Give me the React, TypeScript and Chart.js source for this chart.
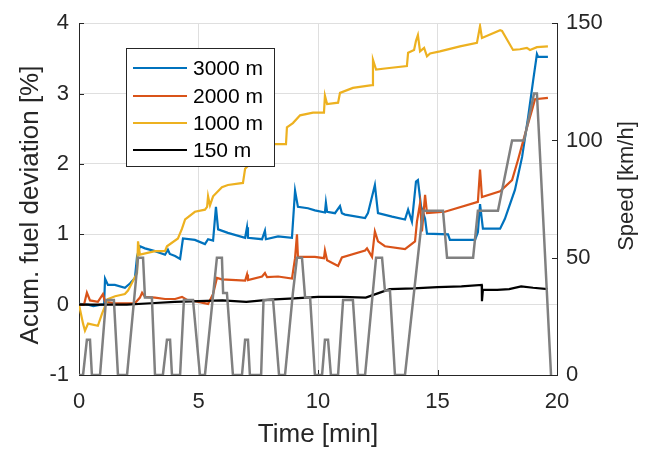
import { useEffect, useRef } from "react";
import { Chart, registerables } from "chart.js";

Chart.register(...registerables);

// ---------- data (time in minutes) ----------
const t3000 = [0, 0.04, 0.38, 0.6, 0.92, 1.05, 1.09, 1.21, 1.5, 1.92, 2.13, 2.34, 2.43, 2.55, 2.76, 3.18, 3.6, 3.72, 3.8, 4.02, 4.23, 4.35, 4.85, 5.27, 5.4, 5.61, 5.73, 5.82, 6.23, 6.95, 7.03, 7.07, 7.66, 7.78, 7.82, 8.33, 8.91, 9.04, 9.16, 9.58, 9.87, 10.29, 10.33, 10.38, 10.71, 10.92, 11.0, 11.13, 11.97, 12.09, 12.38, 12.51, 13.1, 13.64, 13.77, 13.93, 14.1, 14.18, 14.31, 14.48, 14.56, 15.44, 15.52, 16.57, 16.69, 16.78, 16.9, 17.62, 17.82, 18.24, 18.54, 18.79, 19.0, 19.16, 19.21, 19.62];
const v3000 = [0, 0.01, 0.0, -0.02, 0.0, 0.0, 0.37, 0.28, 0.28, 0.24, 0.3, 0.38, 0.69, 0.83, 0.8, 0.76, 0.71, 0.78, 0.72, 0.69, 0.65, 0.94, 0.92, 0.86, 0.93, 0.91, 1.39, 1.07, 1.02, 0.95, 1.1, 0.95, 0.93, 1.05, 0.93, 0.97, 0.95, 1.62, 1.39, 1.37, 1.34, 1.31, 1.45, 1.32, 1.3, 1.4, 1.3, 1.28, 1.23, 1.3, 1.7, 1.3, 1.25, 1.21, 1.35, 1.18, 1.75, 1.77, 1.4, 1.22, 1.01, 1.0, 0.92, 0.92, 1.03, 1.43, 1.08, 1.08, 1.22, 1.63, 2.1, 2.66, 3.18, 3.56, 3.52, 3.52];

const t2000 = [0, 0.21, 0.33, 0.46, 0.79, 1.0, 1.09, 1.51, 2.34, 2.55, 2.64, 2.76, 3.18, 3.6, 4.02, 4.31, 4.56, 4.85, 5.4, 5.61, 5.77, 5.98, 6.95, 7.03, 7.07, 7.66, 7.78, 7.87, 8.33, 8.91, 9.04, 9.12, 9.16, 9.87, 10.25, 10.29, 10.38, 10.84, 11.0, 11.97, 12.05, 12.26, 12.38, 12.51, 12.8, 13.64, 14.06, 14.14, 14.27, 14.35, 14.48, 14.56, 15.31, 16.69, 16.78, 16.86, 17.62, 18.12, 18.37, 18.66, 18.95, 19.08, 19.62];
const v2000 = [0, 0.0, 0.17, 0.06, 0.04, 0.15, 0.04, 0.02, 0.02, 0.1, 0.17, 0.11, 0.1, 0.08, 0.08, 0.11, 0.06, 0.05, 0.01, 0.15, 0.38, 0.36, 0.34, 0.43, 0.35, 0.4, 0.45, 0.39, 0.4, 0.37, 0.66, 1.0, 0.68, 0.68, 0.66, 0.77, 0.63, 0.55, 0.67, 0.77, 0.8, 0.68, 1.04, 0.9, 0.83, 0.79, 0.9, 1.18, 1.44, 1.04, 1.56, 1.3, 1.32, 1.46, 1.92, 1.53, 1.61, 1.77, 2.06, 2.42, 2.76, 2.92, 2.94];

const t1000 = [0, 0.17, 0.25, 0.38, 0.79, 0.96, 1.21, 1.51, 1.92, 2.05, 2.22, 2.43, 2.47, 2.55, 3.18, 3.6, 3.68, 4.14, 4.31, 4.44, 4.85, 5.27, 5.36, 5.4, 5.48, 5.61, 5.98, 6.23, 6.86, 6.95, 7.15, 7.66, 8.12, 8.66, 8.7, 8.95, 9.25, 9.79, 10.25, 10.29, 10.38, 10.84, 10.92, 11.46, 12.26, 12.3, 12.43, 12.89, 13.72, 13.77, 14.02, 14.1, 14.18, 14.27, 14.44, 14.56, 14.69, 15.1, 15.94, 16.65, 16.78, 16.86, 17.2, 17.62, 17.7, 18.16, 18.45, 18.74, 18.87, 19.16, 19.62];
const v1000 = [0, -0.27, -0.37, -0.27, -0.3, -0.13, 0.08, 0.12, 0.15, 0.2, 0.31, 0.45, 0.9, 0.71, 0.76, 0.76, 0.83, 0.94, 1.08, 1.21, 1.32, 1.35, 1.39, 1.54, 1.41, 1.54, 1.67, 1.7, 1.73, 1.93, 2.0, 2.15, 2.28, 2.28, 2.52, 2.58, 2.69, 2.73, 2.73, 2.97, 2.85, 2.87, 3.01, 3.08, 3.12, 3.48, 3.34, 3.36, 3.39, 3.58, 3.62, 3.75, 3.83, 3.6, 3.65, 3.53, 3.57, 3.6, 3.67, 3.72, 3.96, 3.79, 3.84, 3.9, 3.89, 3.62, 3.63, 3.65, 3.62, 3.66, 3.67];

const t150 = [0, 2.0, 3.0, 4.0, 5.0, 6.0, 7.0, 8.0, 9.0, 10.0, 11.0, 12.0, 12.5, 13.0, 14.0, 15.0, 16.0, 16.85, 16.86, 16.9, 17.5, 18.0, 18.5, 19.0, 19.62];
const v150 = [0, 0.0, 0.02, 0.04, 0.05, 0.06, 0.04, 0.07, 0.09, 0.11, 0.11, 0.1, 0.16, 0.22, 0.23, 0.25, 0.26, 0.28, 0.05, 0.21, 0.21, 0.22, 0.26, 0.24, 0.22];

const tSpeed = [0, 0.17, 0.33, 0.46, 0.54, 0.88, 1.13, 1.46, 1.63, 2.01, 2.47, 2.68, 2.76, 3.05, 3.18, 3.51, 3.68, 3.81, 3.89, 4.23, 4.39, 4.77, 5.06, 5.27, 5.77, 5.98, 6.03, 6.19, 6.44, 6.82, 6.95, 7.07, 7.15, 7.62, 7.72, 8.12, 8.37, 8.62, 8.95, 9.12, 9.33, 9.46, 9.67, 9.87, 10.17, 10.29, 10.42, 10.54, 10.84, 11.05, 11.46, 11.67, 11.97, 12.43, 12.68, 12.8, 13.01, 13.22, 13.64, 14.39, 15.23, 15.4, 16.49, 16.69, 17.53, 18.12, 18.62, 19.04, 19.16, 19.75];
const vSpeed = [0, 0, 15, 15, 0, 0, 32, 32, 0, 0, 50, 50, 33, 33, 0, 0, 15, 15, 0, 0, 32, 32, 0, 0, 50, 50, 35, 35, 0, 0, 15, 15, 0, 0, 32, 32, 0, 0, 35, 50, 50, 33, 33, 0, 0, 15, 15, 0, 0, 32, 32, 0, 0, 50, 50, 36, 36, 0, 0, 70, 70, 50, 50, 70, 70, 100, 100, 120, 120, 0];

const seriesLabels = ["3000 m", "2000 m", "1000 m", "150 m"];
const seriesColors = ["#0072BD", "#D95319", "#EDB120", "#000000"];
const speedColor = "#808080";

const xTicks = [0, 5, 10, 15, 20];
const yTicks = [-1, 0, 1, 2, 3, 4];
const y1Ticks = [0, 50, 100, 150];

const FONT = "'Liberation Sans', Arial, Helvetica, sans-serif";
const AXIS = "#262626";
const GRID = "#dfdfdf";

const pts = (t: number[], v: number[]) => t.map((x, i) => ({ x, y: v[i] }));

const decor = {
  id: "decor",
  beforeDatasetsDraw(chart: any) {
    const { ctx, chartArea, scales } = chart;
    ctx.save();
    ctx.strokeStyle = AXIS;
    ctx.lineWidth = 1;
    ctx.beginPath();
    yTicks.forEach((v) => {
      const y = Math.round(scales.y.getPixelForValue(v)) + 0.5;
      ctx.moveTo(chartArea.left, y);
      ctx.lineTo(chartArea.left + 5, y);
    });
    y1Ticks.forEach((v) => {
      const y = Math.round(scales.y1.getPixelForValue(v)) + 0.5;
      ctx.moveTo(chartArea.right, y);
      ctx.lineTo(chartArea.right - 5, y);
    });
    xTicks.forEach((v) => {
      const x = Math.round(scales.x.getPixelForValue(v)) + 0.5;
      ctx.moveTo(x, chartArea.bottom);
      ctx.lineTo(x, chartArea.bottom - 5);
    });
    ctx.stroke();
    ctx.restore();
  },
  afterDatasetsDraw(chart: any) {
    const { ctx } = chart;
    ctx.save();
    const bx = 126.5, by = 48.5, bw = 148, bh = 118;
    ctx.fillStyle = "#ffffff";
    ctx.fillRect(bx, by, bw, bh);
    ctx.strokeStyle = AXIS;
    ctx.lineWidth = 1;
    ctx.strokeRect(bx, by, bw, bh);
    const rows = [68, 96, 123, 150];
    ctx.font = `21px ${FONT}`;
    ctx.textBaseline = "middle";
    ctx.textAlign = "left";
    seriesLabels.forEach((lab, i) => {
      ctx.strokeStyle = seriesColors[i];
      ctx.lineWidth = 2;
      ctx.beginPath();
      ctx.moveTo(133, rows[i]);
      ctx.lineTo(187, rows[i]);
      ctx.stroke();
      ctx.fillStyle = "#000000";
      ctx.fillText(lab, 193, rows[i] + 1);
    });
    ctx.restore();
  },
  afterDraw(chart: any) {
    const { ctx } = chart;
    ctx.save();
    ctx.fillStyle = AXIS;
    ctx.textAlign = "center";
    ctx.textBaseline = "middle";
    ctx.font = `26px ${FONT}`;
    ctx.translate(31, 205);
    ctx.rotate(-Math.PI / 2);
    ctx.fillText("Acum. fuel deviation [%]", 0, 0);
    ctx.restore();
    ctx.save();
    ctx.fillStyle = AXIS;
    ctx.textAlign = "center";
    ctx.textBaseline = "middle";
    ctx.font = `22px ${FONT}`;
    ctx.translate(627, 186);
    ctx.rotate(-Math.PI / 2);
    ctx.fillText("Speed [km/h]", 0, 0);
    ctx.restore();
  },
};

export default function App() {
  const ref = useRef<HTMLCanvasElement>(null);
  useEffect(() => {
    document.body.style.margin = "0";
    const lineDs = (label: string, color: string, data: any[], order: number, yAxisID = "y", width = 2.2) => ({
      label,
      data,
      borderColor: color,
      backgroundColor: color,
      borderWidth: width,
      pointRadius: 0,
      tension: 0,
      fill: false,
      yAxisID,
      order,
    });
    const chart = new Chart(ref.current!, {
      type: "line",
      data: {
        datasets: [
          lineDs(seriesLabels[0], seriesColors[0], pts(t3000, v3000), 4),
          lineDs(seriesLabels[1], seriesColors[1], pts(t2000, v2000), 3),
          lineDs(seriesLabels[2], seriesColors[2], pts(t1000, v1000), 2),
          lineDs(seriesLabels[3], seriesColors[3], pts(t150, v150), 1),
          lineDs("Speed", speedColor, pts(tSpeed, vSpeed), 0, "y1", 2.5),
        ],
      },
      options: {
        responsive: false,
        animation: false,
        devicePixelRatio: 1,
        parsing: false as any,
        layout: { padding: { top: 20, left: 0, right: 0, bottom: 0 } },
        plugins: { legend: { display: false }, tooltip: { enabled: false } },
        scales: {
          x: {
            type: "linear",
            min: 0,
            max: 20,
            afterBuildTicks: (s: any) => { s.ticks = xTicks.map((v) => ({ value: v })); },
            ticks: { color: AXIS, font: { family: FONT, size: 22 }, padding: 14, maxRotation: 0 },
            grid: { color: GRID, drawTicks: false, lineWidth: 1 },
            border: { color: AXIS, width: 1 },
            title: { display: true, text: "Time [min]", color: AXIS, font: { family: FONT, size: 26, lineHeight: 1.2 }, padding: { top: 0, bottom: 2 } },
            afterFit: (s: any) => { s.height = 77; },
          },
          y: {
            type: "linear",
            position: "left",
            min: -1,
            max: 4,
            afterBuildTicks: (s: any) => { s.ticks = yTicks.map((v) => ({ value: v })); },
            ticks: { color: AXIS, font: { family: FONT, size: 22 }, padding: 10 },
            grid: { color: GRID, drawTicks: false, lineWidth: 1 },
            border: { color: AXIS, width: 1 },
            afterFit: (s: any) => { s.width = 79; },
          },
          y1: {
            type: "linear",
            position: "right",
            min: 0,
            max: 150,
            afterBuildTicks: (s: any) => { s.ticks = y1Ticks.map((v) => ({ value: v })); },
            ticks: { color: AXIS, font: { family: FONT, size: 22 }, padding: 9 },
            grid: { drawOnChartArea: false, drawTicks: false },
            border: { color: AXIS, width: 1 },
            afterFit: (s: any) => { s.width = 89; },
          },
        },
      },
      plugins: [decor],
    } as any);
    return () => chart.destroy();
  }, []);
  return (
    <div style={{ width: 646, height: 452 }}>
      <canvas ref={ref} width={646} height={452} style={{ display: "block" }} />
    </div>
  );
}
